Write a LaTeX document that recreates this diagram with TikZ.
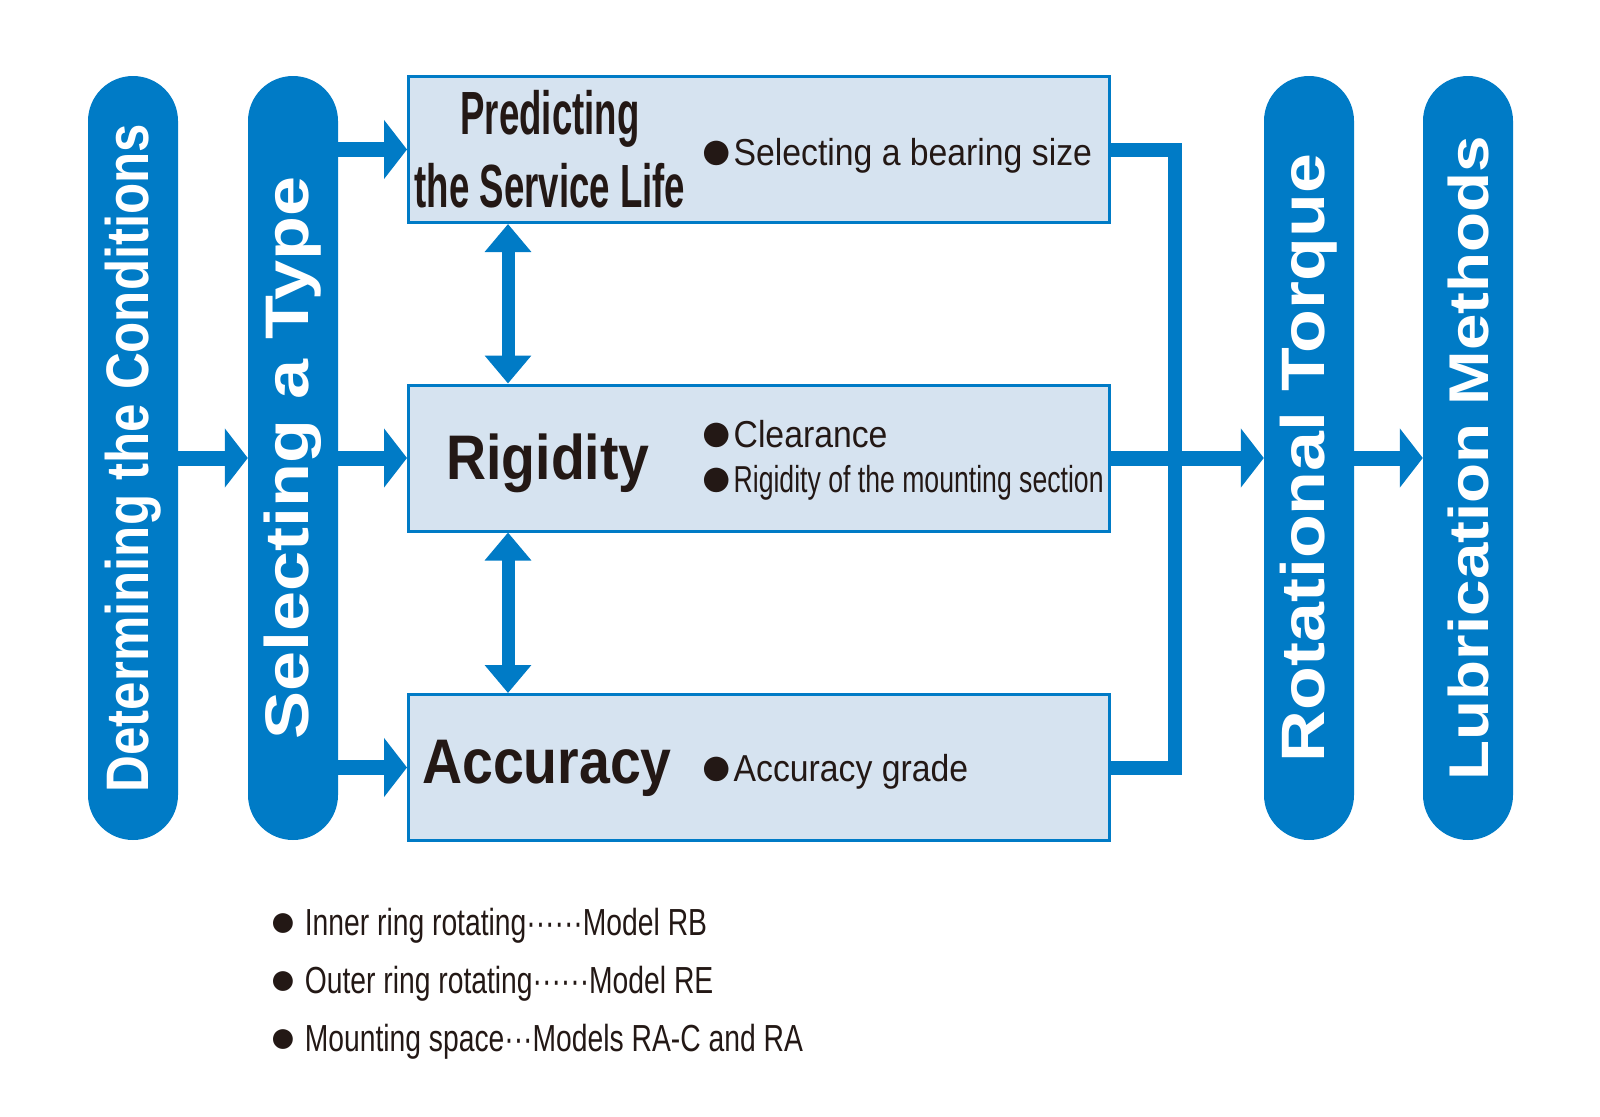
\documentclass[tikz,border=0pt]{standalone}
\usepackage{fontspec}
\setmainfont{Liberation Sans}
\newfontfamily\squeezefont[FakeStretch=0.85]{Liberation Sans}
\newfontfamily\widefont[FakeStretch=1.17]{Liberation Sans}
\newfontfamily\headfont[FakeStretch=0.6]{Liberation Sans}
\newfontfamily\boldfont[FakeStretch=0.88]{Liberation Sans}
\newfontfamily\itemfont[FakeStretch=0.9]{Liberation Sans}
\newfontfamily\tightfont[FakeStretch=0.71]{Liberation Sans}
\newfontfamily\notefont[FakeStretch=0.75]{Liberation Sans}
\usetikzlibrary{arrows.meta}

\definecolor{thkblue}{RGB}{0,123,198}
\definecolor{panel}{RGB}{214,227,240}
\definecolor{ink}{RGB}{35,24,21}

\newcommand{\itemdot}{\smash{\raisebox{-4pt}{\rmfamily\fontsize{57}{45}\selectfont ●}}}
\newcommand{\notedot}{\smash{\raisebox{-1pt}{\rmfamily\fontsize{46}{45}\selectfont ●}}}

\begin{document}
\begin{tikzpicture}[x=1pt,y=-1pt,
  pill/.style={fill=thkblue,text=white,rounded corners=45pt,rotate=90,
    minimum width=764pt,minimum height=90pt,inner sep=0pt},
  stage/.style={draw=thkblue,fill=panel,line width=3pt,
    minimum width=701pt,minimum height=146pt,inner sep=0pt},
  title/.style={text=ink,inner sep=0pt},
  item/.style={text=ink,anchor=base west,inner sep=0pt,
    font=\itemfont\fontsize{37.5}{45}\selectfont},
  note/.style={text=ink,anchor=base west,inner sep=0pt,
    font=\notefont\fontsize{37.7}{45}\selectfont},
  flow/.style={thkblue,line width=15pt,-{Triangle[length=23pt,width=58pt]}},
  dflow/.style={thkblue,line width=13pt,
    {Triangle[length=28pt,width=45pt]}-{Triangle[length=28pt,width=45pt]}},
  bus/.style={thkblue,line width=14pt}]
\path[use as bounding box] (0,0) rectangle (1600,1116);

% stages
\node (det) [pill,font=\squeezefont\bfseries\fontsize{60}{60}\selectfont] at (133,458) {Determining the Conditions};
\node (sel) [pill,font=\widefont\bfseries\fontsize{61.5}{60}\selectfont] at (293,458) {Selecting a Type};
\node (rot) [pill,font=\widefont\bfseries\fontsize{61.3}{60}\selectfont] at (1309,458) {Rotational Torque};
\node (lub) [pill,font=\widefont\bfseries\fontsize{56}{60}\selectfont] at (1468,458) {Lubrication Methods};

\node (pred) [stage] at (759,149.5) {};
\node (rig) [stage] at (759,458) {};
\node (acc) [stage] at (759,767.5) {};

% box texts
\node (predt) [title,align=center,font=\headfont\bfseries\fontsize{61}{73}\selectfont] at (550,149) {Predicting\\the Service Life};
\node (rigt) [title,anchor=base,font=\boldfont\bfseries\fontsize{63}{63}\selectfont] at (548,479) {Rigidity};
\node (acct) [title,anchor=base,font=\boldfont\bfseries\fontsize{63}{63}\selectfont] at (547,783) {Accuracy};

\node (size) [item] at (699,165) {\itemdot Selecting a bearing size};
\node (clear) [item,align=left] at (699,492) {\itemdot Clearance\\{\tightfont\itemdot Rigidity of the mounting section}};
\node (grade) [item] at (699,781) {\itemdot Accuracy grade};

% connectors
\draw[flow] (det.south) -- (sel.north);
\draw[flow] (sel.south |- pred.west) -- (pred.west);
\draw[flow] (sel.south |- rig.west) -- (rig.west);
\draw[flow] (sel.south |- acc.west) -- (acc.west);
\draw[dflow] ([xshift=101pt]pred.south west) -- ([xshift=101pt]rig.north west);
\draw[dflow] ([xshift=101pt]rig.south west) -- ([xshift=101pt]acc.north west);
\coordinate (join) at (1175,458);
\draw[bus] (pred.east) -| (join) |- (acc.east);
\draw[flow] (rig.east) -- (rot.north);
\draw[flow] (rot.south) -- (lub.north);

% notes
\node (inner) [note] at (269,935) {\notedot{} Inner ring rotating······Model RB};
\node (outer) [note] at (269,993) {\notedot{} Outer ring rotating······Model RE};
\node (space) [note] at (269,1051) {\notedot{} Mounting space···Models RA-C and RA};
\end{tikzpicture}
\end{document}
